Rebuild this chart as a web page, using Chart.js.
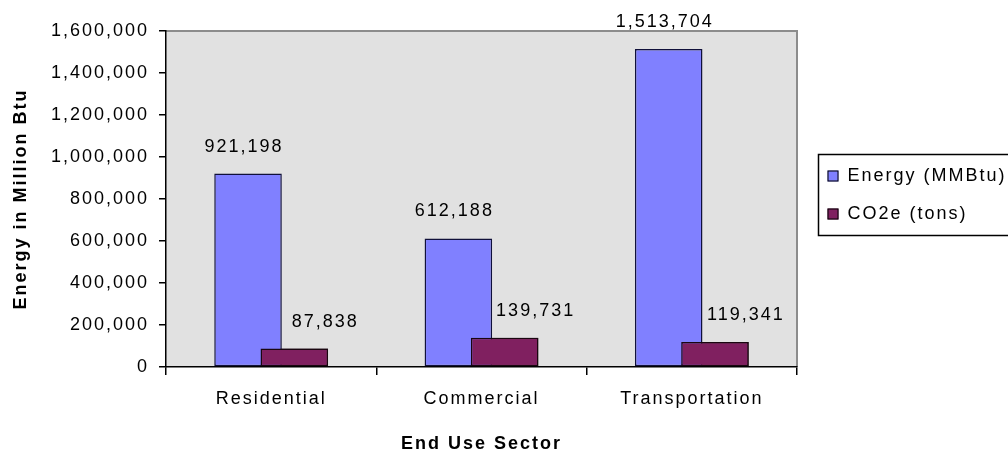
<!DOCTYPE html>
<html>
<head>
<meta charset="utf-8">
<script src="https://cdn.jsdelivr.net/npm/chart.js@4.4.1/dist/chart.umd.min.js"></script>
<style>
  html, body { margin: 0; padding: 0; background: #fff; }
  #wrap { width: 1008px; height: 455px; }
</style>
</head>
<body>
<div id="wrap"><canvas id="energyChart" width="1008" height="455"></canvas></div>
<script>
// chart values
const sectors = ['Residential', 'Commercial', 'Transportation'];
const energyValues = [921198, 612188, 1513704];
const co2Values = [87838, 139731, 119341];
const seriesNames = ['Energy (MMBtu)', 'CO2e (tons)'];
const yTicks = [0, 200000, 400000, 600000, 800000, 1000000, 1200000, 1400000, 1600000];

const fmt = v => Number(v).toLocaleString('en-US');

// wide glyph spacing like the old Excel render
function setSpacing(chart) {
    if ('letterSpacing' in chart.ctx) chart.ctx.letterSpacing = '2px';
}

const plotStyle = {
    id: 'plotStyle',
    beforeUpdate: setSpacing,
    beforeLayout: setSpacing,
    beforeDraw(chart) {
        setSpacing(chart);
        const {ctx, chartArea: a} = chart;
        ctx.save();
        ctx.fillStyle = '#e1e1e1';
        ctx.fillRect(a.left, a.top, a.right - a.left, a.bottom - a.top);
        ctx.strokeStyle = '#8c8c8c';
        ctx.lineWidth = 2;
        ctx.beginPath();
        ctx.moveTo(a.left, a.top);
        ctx.lineTo(a.right, a.top);
        ctx.lineTo(a.right, a.bottom);
        ctx.stroke();
        ctx.restore();
    },
    afterDatasetsDraw(chart) {
        // CO2 bars sit in front of the energy bars
        chart.getDatasetMeta(1).controller.draw();
        const ctx = chart.ctx;
        ctx.save();
        ctx.font = '18px "Liberation Sans", Arial, sans-serif';
        ctx.fillStyle = '#000';
        ctx.textAlign = 'center';
        ctx.textBaseline = 'middle';
        const dx = [-4, 31];
        chart.data.datasets.forEach((ds, i) => {
            chart.getDatasetMeta(i).data.forEach((bar, j) => {
                ctx.fillText(fmt(ds.data[j]), bar.x + dx[i], bar.y - 27);
            });
        });
        ctx.restore();
    },
    afterDraw(chart) {
        // legend box to the right of the plot
        const {ctx, chartArea: a} = chart;
        const left = a.right + 21.5;
        const top = (a.top + a.bottom) / 2 - 44.5;
        ctx.save();
        ctx.strokeStyle = '#000';
        ctx.lineWidth = 1.5;
        ctx.strokeRect(left, top, 220, 81);
        ctx.font = '18px "Liberation Sans", Arial, sans-serif';
        ctx.textBaseline = 'middle';
        ctx.textAlign = 'left';
        chart.data.datasets.forEach((ds, i) => {
            const y = top + 21.5 + i * 38;
            ctx.fillStyle = ds.backgroundColor;
            ctx.fillRect(left + 9, y - 5.5, 11, 11);
            ctx.lineWidth = 1;
            ctx.strokeRect(left + 9.5, y - 5, 10, 10);
            ctx.fillStyle = '#000';
            ctx.fillText(ds.label, left + 29, y);
        });
        ctx.restore();
    }
};

Chart.defaults.font.family = '"Liberation Sans", Arial, sans-serif';
Chart.defaults.font.size = 18;
Chart.defaults.color = '#000';

new Chart(document.getElementById('energyChart'), {
    type: 'bar',
    data: {
        labels: sectors,
        datasets: [{
            label: seriesNames[0],
            data: energyValues,
            backgroundColor: '#8080ff',
            borderColor: '#10103a',
            borderWidth: 1.5,
            borderSkipped: false
        }, {
            label: seriesNames[1],
            data: co2Values,
            backgroundColor: '#802060',
            borderColor: '#1a0610',
            borderWidth: 1.5,
            borderSkipped: false
        }]
    },
    options: {
        responsive: false,
        animation: false,
        categoryPercentage: 0.44,
        barPercentage: 1.46,
        layout: { padding: { top: 31, right: 211, bottom: 0, left: 0 } },
        plugins: {
            legend: { display: false },
            tooltip: { enabled: false }
        },
        scales: {
            x: {
                grid: { offset: true, drawOnChartArea: false, drawTicks: true, tickLength: 8, color: '#000', lineWidth: 1.5 },
                border: { color: '#000', width: 1.5 },
                ticks: { padding: 13, font: { size: 18 } },
                title: {
                    display: true,
                    text: 'End Use Sector',
                    font: { size: 18, weight: 'bold' },
                    padding: { top: 0, bottom: 0 }
                },
                afterFit: s => { s.height = 88; }
            },
            y: {
                min: 0,
                max: 1600000,
                afterBuildTicks: s => { s.ticks = yTicks.map(v => ({ value: v })); },
                grid: { drawOnChartArea: false, drawTicks: true, tickLength: 7, color: '#000', lineWidth: 1.5 },
                border: { color: '#000', width: 1.5 },
                ticks: { padding: 10, callback: v => fmt(v) },
                title: {
                    display: true,
                    text: 'Energy in Million Btu',
                    font: { size: 18, weight: 'bold' },
                    padding: { top: 10, bottom: 0 }
                },
                afterFit: s => { s.width = 166; }
            }
        }
    },
    plugins: [plotStyle]
});
</script>
</body>
</html>
